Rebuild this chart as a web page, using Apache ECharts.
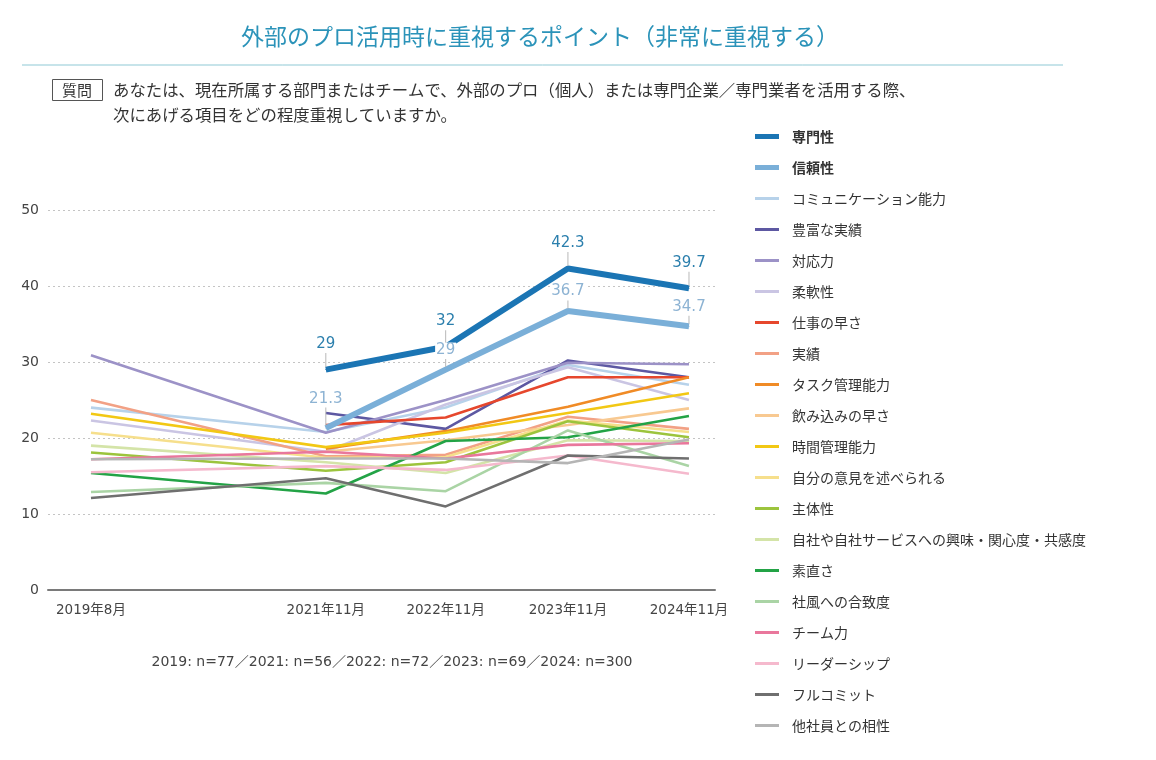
<!DOCTYPE html>
<html lang="ja">
<head>
    <meta charset="UTF-8">
    <title>外部のプロ活用時に重視するポイント</title>
    <script src="https://cdn.jsdelivr.net/npm/echarts@6.0.0/dist/echarts.min.js"></script>
    <style>
        body { margin: 0; background: #fff; }
        #chart { width: 1156px; height: 760px; }
    </style>
</head>
<body>
    <div id="chart"></div>
    <script>
        // 調査時点
        const xLabels = ['2019年8月', '2021年11月', '2022年11月', '2023年11月', '2024年11月'];
        const xPos = [0, 1.94, 2.93, 3.94, 4.94];

        const lineNames = [
            '専門性', '信頼性', 'コミュニケーション能力', '豊富な実績', '対応力', '柔軟性',
            '仕事の早さ', '実績', 'タスク管理能力', '飲み込みの早さ', '時間管理能力',
            '自分の意見を述べられる', '主体性', '自社や自社サービスへの興味・関心度・共感度',
            '素直さ', '社風への合致度', 'チーム力', 'リーダーシップ', 'フルコミット', '他社員との相性'
        ];
        const lineColors = [
            '#1b75b4', '#7aafd8', '#b7d2ea', '#5d58a2', '#9c92c7', '#cac5e3',
            '#e6472d', '#f2a185', '#f08b26', '#f8c991', '#f2c814',
            '#f6df8c', '#9cc43d', '#d4e4a8', '#23a346', '#aad4a5', '#e9779c',
            '#f5b9cd', '#6f6f6f', '#b5b5b5'
        ];
        // 値(%)  null = 未調査
        const lineValues = [
            [null, 29, 32, 42.3, 39.7],
            [null, 21.3, 29, 36.7, 34.7],
            [24.0, 20.8, 24.0, 29.6, 27.0],
            [null, 23.3, 21.2, 30.2, 28.0],
            [30.9, 20.7, 25.0, 29.9, 29.7],
            [22.3, 18.2, 24.4, 29.3, 25.0],
            [null, 21.7, 22.7, 28.0, 28.0],
            [25.0, 17.6, 17.8, 22.8, 21.2],
            [null, 18.6, 20.9, 24.1, 28.0],
            [null, 18.2, 19.7, 21.7, 23.9],
            [23.2, 18.8, 20.7, 23.3, 25.9],
            [20.7, 17.4, 17.5, 22.3, 20.8],
            [18.1, 15.7, 16.8, 22.2, 20.1],
            [19.0, 16.8, 15.4, 19.7, 19.6],
            [15.4, 12.7, 19.6, 20.1, 22.9],
            [12.9, 14.1, 13.0, 21.0, 16.3],
            [17.2, 18.2, 17.3, 19.1, 19.3],
            [15.5, 16.3, 15.8, 17.7, 15.3],
            [12.1, 14.7, 11.0, 17.7, 17.3],
            [17.2, 17.3, 17.3, 16.7, 19.8]
        ];

        const FONT = '"Noto Sans CJK JP", "Noto Sans", sans-serif';
        const NUM_FONT = '"DejaVu Sans", "Noto Sans CJK JP", sans-serif';

        function labelFor(color, tickH) {
            return {
                show: true,
                position: 'top',
                distance: 2,
                formatter: p => (p.value[1] == null ? '' : '{v|' + p.value[1] + '}\n{t|}'),
                rich: {
                    v: { color: color, fontSize: 15, fontFamily: NUM_FONT, lineHeight: 18, backgroundColor: '#fff', padding: [0, 1] },
                    t: { width: 1, height: tickH, backgroundColor: '#b8b8b8' }
                }
            };
        }

        const series = lineNames.map((name, i) => {
            const main = i < 2;
            const s = {
                name: name,
                type: 'line',
                symbol: main ? 'circle' : 'none',
                symbolSize: 1,
                showSymbol: main,
                z: i === 0 ? 3 : (i === 1 ? 4 : 2),
                lineStyle: { color: lineColors[i], width: main ? 6 : 2.6 },
                itemStyle: { color: lineColors[i] },
                data: lineValues[i].map((v, k) => [xPos[k], v])
            };
            if (i === 0) {
                s.label = labelFor('#2b7fad', 14);
            }
            if (i === 1) {
                s.label = labelFor('#8db3d3', 8);
                // 2021年11月の値だけ引き出し線を長く
                s.data = lineValues[i].map((v, k) => {
                    const item = { value: [xPos[k], v] };
                    if (k === 1) item.label = labelFor('#8db3d3', 18);
                    return item;
                });
            }
            return s;
        });

        const chart = echarts.init(document.getElementById('chart'));
        chart.setOption({
            animation: false,
            textStyle: { fontFamily: FONT },
            grid: { left: 48, right: 441, top: 210, bottom: 170 },
            xAxis: {
                type: 'value',
                min: -0.355,
                max: 5.155,
                axisLine: { show: true, lineStyle: { color: '#7a7a7a', width: 2 } },
                axisTick: { show: false },
                splitLine: { show: false },
                axisLabel: {
                    customValues: xPos,
                    color: '#444',
                    fontSize: 13.5,
                    fontFamily: NUM_FONT,
                    margin: 14,
                    formatter: v => xLabels[xPos.indexOf(v)] || ''
                }
            },
            yAxis: {
                type: 'value',
                min: 0,
                max: 50,
                interval: 10,
                axisLine: { show: false },
                axisTick: { show: false },
                axisLabel: { color: '#444', fontSize: 14, fontFamily: NUM_FONT, margin: 9 },
                splitLine: { lineStyle: { color: '#c4c4c4', type: [2, 3], width: 1 } }
            },
            legend: {
                orient: 'vertical',
                left: 755,
                top: 129,
                padding: 0,
                itemWidth: 24,
                itemHeight: 14,
                itemGap: 16,
                selectedMode: false,
                textStyle: { color: '#333', fontSize: 14, fontFamily: FONT, lineHeight: 15, padding: [0, 0, 0, 8] },
                data: lineNames.map((n, i) => ({
                    name: n,
                    icon: i < 2 ? 'path://M0,0H24V5H0Z' : 'path://M0,0H24V3H0Z',
                    itemStyle: { color: lineColors[i] },
                    textStyle: i < 2 ? { fontWeight: 'bold' } : {}
                }))
            },
            graphic: [
                {
                    type: 'text', z: 10, x: 540, y: 36,
                    style: {
                        text: '外部のプロ活用時に重視するポイント（非常に重視する）',
                        fill: '#2b93b9', fontSize: 23, fontFamily: FONT,
                        align: 'center', verticalAlign: 'middle'
                    }
                },
                {
                    type: 'line', z: 10,
                    shape: { x1: 22, y1: 65, x2: 1063, y2: 65 },
                    style: { stroke: '#8fc9d5', lineWidth: 1 }
                },
                {
                    type: 'rect', z: 10,
                    shape: { x: 52.5, y: 79.5, width: 50, height: 21 },
                    style: { fill: '#fff', stroke: '#555', lineWidth: 1 }
                },
                {
                    type: 'text', z: 11, x: 77, y: 90,
                    style: { text: '質問', fill: '#333', fontSize: 15, fontFamily: FONT, align: 'center', verticalAlign: 'middle' }
                },
                {
                    type: 'text', z: 11, x: 113, y: 90,
                    style: {
                        text: 'あなたは、現在所属する部門またはチームで、外部のプロ（個人）または専門企業／専門業者を活用する際、',
                        fill: '#333', fontSize: 16.4, fontFamily: FONT, verticalAlign: 'middle'
                    }
                },
                {
                    type: 'text', z: 11, x: 113, y: 115,
                    style: {
                        text: '次にあげる項目をどの程度重視していますか。',
                        fill: '#333', fontSize: 16.4, fontFamily: FONT, verticalAlign: 'middle'
                    }
                },
                {
                    type: 'text', z: 11, x: 392, y: 662,
                    style: {
                        text: '2019: n=77／2021: n=56／2022: n=72／2023: n=69／2024: n=300',
                        fill: '#444', fontSize: 14, fontFamily: NUM_FONT, align: 'center', verticalAlign: 'middle'
                    }
                }
            ],
            series: series
        });
    </script>
</body>
</html>
